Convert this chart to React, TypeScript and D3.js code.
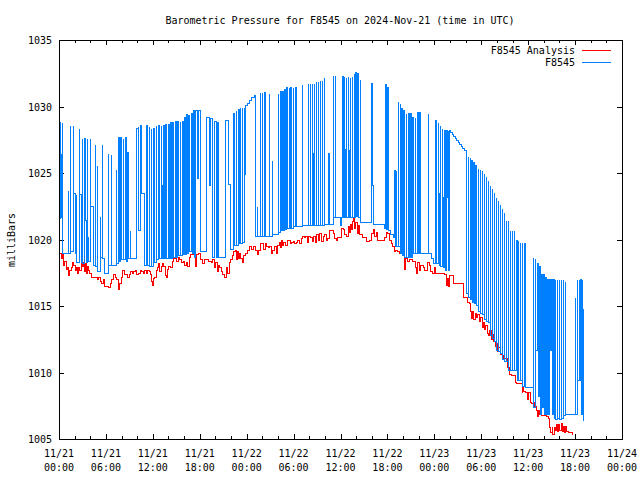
import React from "react";
import * as d3 from "d3";

const titleText = "Barometric Pressure for F8545 on 2024-Nov-21 (time in UTC)";
const yAxisLabel = "milliBars";
const seriesNames = ["F8545 Analysis", "F8545"];
const seriesColors = ["#ff0000", "#0080ff"];

const yTickValues = [1005, 1010, 1015, 1020, 1025, 1030, 1035];
const xTickHours = [0, 6, 12, 18, 24, 30, 36, 42, 48, 54, 60, 66, 72];
const xTickDates = ["11/21", "11/21", "11/21", "11/21", "11/22", "11/22", "11/22", "11/22", "11/23", "11/23", "11/23", "11/23", "11/24"];
const xTickTimes = ["00:00", "06:00", "12:00", "18:00", "00:00", "06:00", "12:00", "18:00", "00:00", "06:00", "12:00", "18:00", "00:00"];
const xMinorTickHours = [2, 4, 8, 10, 14, 16, 20, 22, 26, 28, 32, 34, 38, 40, 44, 46, 50, 52, 56, 58, 62, 64, 68, 70];

// [hours since 2024-11-21 00:00 UTC, millibars]
const redDay1 = [
  [0, 1019.0], [0.2, 1018.6], [0.35, 1018.9], [0.5, 1018.1], [0.7, 1018.4], [0.9, 1017.8], [1.05, 1017.9], [1.15, 1017.3], [1.3, 1017.7], [1.5, 1017.9],
  [1.7, 1018.3], [1.85, 1018.1], [2.0, 1017.7], [2.15, 1017.9], [2.3, 1017.5], [2.45, 1017.9], [2.6, 1017.7], [2.75, 1018.2], [2.9, 1018.0], [3.05, 1018.3],
  [3.15, 1017.6], [3.3, 1018.2], [3.45, 1017.5], [3.6, 1018.0], [3.75, 1017.7], [3.9, 1017.5], [4.1, 1017.2], [4.4, 1017.2], [4.6, 1017.2], [4.8, 1017.0],
  [5.0, 1017.2], [5.2, 1016.9], [5.4, 1016.7], [5.6, 1017.0], [5.8, 1016.5], [6.0, 1016.5], [6.3, 1016.4], [6.5, 1016.7], [6.7, 1017.0], [6.9, 1017.4],
  [7.1, 1017.2], [7.3, 1017.0], [7.5, 1016.3], [7.7, 1016.7], [7.9, 1017.2], [8.1, 1017.7], [8.3, 1017.4], [8.5, 1017.4], [8.7, 1017.2], [8.9, 1017.4],
  [9.1, 1017.6], [9.3, 1017.5], [9.5, 1017.6], [9.7, 1017.7], [9.9, 1017.4], [10.1, 1017.5], [10.3, 1017.7], [10.5, 1017.6], [10.7, 1017.5], [10.9, 1017.7],
  [11.1, 1017.5], [11.3, 1017.7], [11.5, 1017.6], [11.65, 1017.4], [11.8, 1016.9], [11.9, 1016.6], [12.05, 1017.1], [12.2, 1017.2], [12.4, 1017.7], [12.55, 1017.9],
  [12.7, 1018.2], [12.85, 1017.6], [13.0, 1018.0], [13.2, 1018.2], [13.35, 1018.0], [13.55, 1017.3], [13.7, 1017.2], [13.85, 1017.8], [14.0, 1018.0], [14.2, 1017.9],
  [14.4, 1018.4], [14.6, 1018.6], [14.8, 1018.6], [15.0, 1018.4], [15.2, 1018.7], [15.4, 1018.5], [15.6, 1018.3], [15.8, 1018.4], [16.0, 1018.1], [16.2, 1018.3],
  [16.4, 1018.0], [16.6, 1018.7], [16.8, 1018.9], [17.0, 1018.9], [17.2, 1018.9], [17.35, 1018.0], [17.5, 1018.9], [17.8, 1019.0], [18.05, 1018.5], [18.3, 1018.2],
  [18.55, 1018.5], [18.8, 1018.5], [19.1, 1018.4], [19.4, 1018.3], [19.6, 1018.5], [19.8, 1017.9], [20.0, 1018.3], [20.15, 1017.6], [20.3, 1018.1], [20.5, 1017.9],
  [20.7, 1017.6], [20.9, 1017.4], [21.1, 1017.2], [21.3, 1017.9], [21.5, 1017.5], [21.7, 1018.3], [21.9, 1018.5], [22.1, 1018.8], [22.3, 1019.1], [22.45, 1019.2],
  [22.6, 1018.5], [22.75, 1019.1], [22.9, 1018.6], [23.05, 1019.0], [23.2, 1018.6], [23.4, 1018.3], [23.55, 1018.8], [23.75, 1019.0],
];

const redDay2 = [
  [24.0, 1019.2], [24.3, 1019.5], [24.6, 1019.3], [24.8, 1019.5], [25.1, 1019.2], [25.3, 1018.9], [25.5, 1019.2], [25.7, 1019.7], [25.9, 1019.7], [26.1, 1019.3],
  [26.3, 1019.7], [26.5, 1019.5], [26.7, 1019.4], [26.9, 1019.5], [27.1, 1019.0], [27.3, 1019.2], [27.5, 1019.5], [27.7, 1019.0], [27.9, 1019.6], [28.1, 1019.8],
  [28.25, 1019.4], [28.4, 1020.0], [28.55, 1019.6], [28.7, 1019.8], [28.9, 1019.6], [29.1, 1020.0], [29.3, 1020.0], [29.5, 1019.7], [29.7, 1019.8], [29.9, 1019.9],
  [30.1, 1019.7], [30.3, 1019.8], [30.5, 1020.0], [30.7, 1019.7], [30.9, 1020.1], [31.1, 1020.3], [31.3, 1020.2], [31.5, 1020.3], [31.7, 1019.8], [31.9, 1020.3],
  [32.1, 1020.2], [32.3, 1019.9], [32.5, 1020.3], [32.7, 1019.8], [32.9, 1020.4], [33.1, 1020.0], [33.3, 1020.5], [33.5, 1019.9], [33.7, 1020.3], [33.9, 1020.4],
  [34.1, 1020.0], [34.3, 1020.1], [34.5, 1020.7], [34.8, 1020.7], [35.0, 1020.5], [35.2, 1020.1], [35.4, 1020.0], [35.6, 1020.2], [35.9, 1020.2], [36.1, 1020.9],
  [36.3, 1020.8], [36.5, 1020.4], [36.7, 1020.3], [36.9, 1021.0], [37.05, 1020.6], [37.2, 1021.2], [37.35, 1020.8], [37.5, 1021.4], [37.6, 1021.7], [37.75, 1020.9],
  [37.9, 1021.3], [38.05, 1020.5], [38.2, 1021.1], [38.4, 1020.4], [38.6, 1020.4], [38.8, 1020.2], [39.0, 1020.2], [39.3, 1019.9], [39.6, 1020.0], [39.9, 1020.5],
  [40.1, 1020.8], [40.3, 1020.3], [40.5, 1020.6], [40.7, 1020.0], [40.9, 1020.0], [41.2, 1020.0], [41.5, 1020.2], [41.8, 1020.6], [42.0, 1020.5], [42.2, 1020.0],
  [42.4, 1019.7], [42.6, 1019.5], [42.8, 1019.1], [43.0, 1019.2], [43.2, 1019.1], [43.5, 1019.0], [43.8, 1019.0], [44.0, 1019.0], [44.15, 1017.8], [44.3, 1018.6],
  [44.5, 1018.4], [44.8, 1018.5], [45.1, 1018.4], [45.3, 1018.4], [45.5, 1017.9], [45.65, 1017.5], [45.8, 1018.3], [46.0, 1017.7], [46.2, 1018.1], [46.5, 1017.9],
  [46.7, 1017.7], [47.0, 1018.3], [47.3, 1018.1], [47.5, 1017.6], [47.7, 1017.5], [47.9, 1017.9],
];

const redDay3 = [
  [48.1, 1017.5], [48.5, 1017.5], [49.0, 1017.5], [49.3, 1017.4], [49.5, 1016.6], [49.6, 1017.1], [49.75, 1016.5], [49.9, 1017.3], [50.2, 1017.3], [50.4, 1016.7],
  [51.0, 1016.7], [51.5, 1016.7], [51.7, 1015.7], [52.0, 1015.7], [52.2, 1015.3], [52.4, 1015.2], [52.6, 1014.6], [52.75, 1014.1], [52.85, 1014.6], [53.0, 1014.0],
  [53.15, 1014.5], [53.3, 1014.2], [53.5, 1014.4], [53.7, 1013.9], [53.9, 1014.2], [54.05, 1013.4], [54.2, 1013.8], [54.35, 1013.3], [54.5, 1013.6], [54.7, 1013.0],
  [54.9, 1012.8], [55.05, 1013.2], [55.2, 1012.5], [55.35, 1012.9], [55.5, 1012.4], [55.7, 1012.0], [55.9, 1012.2], [56.05, 1011.6], [56.2, 1011.9], [56.4, 1011.4],
  [56.6, 1011.3], [56.8, 1011.1], [57.1, 1011.1], [57.3, 1010.4], [57.5, 1009.9], [57.8, 1009.8], [58.1, 1009.8], [58.3, 1009.3], [58.5, 1009.2], [58.8, 1009.2],
  [59.0, 1009.2], [59.15, 1008.5], [59.25, 1009.0], [59.4, 1008.6], [59.6, 1008.5], [59.8, 1008.0], [60.0, 1008.5], [60.2, 1007.8], [60.4, 1007.7], [60.6, 1007.8],
  [60.8, 1007.5], [61.0, 1007.2], [61.1, 1006.7], [61.2, 1007.2], [61.4, 1006.9], [61.7, 1006.8], [62.0, 1006.8], [62.3, 1006.7], [62.5, 1006.6], [62.7, 1005.9],
  [62.85, 1005.5], [63.0, 1006.0], [63.1, 1005.4], [63.25, 1005.9], [63.4, 1005.7], [63.55, 1006.1], [63.7, 1005.6], [63.85, 1006.1], [64.0, 1005.7], [64.15, 1006.2],
  [64.3, 1005.6], [64.45, 1006.0], [64.6, 1005.5], [64.75, 1006.0], [64.9, 1005.6], [65.1, 1005.5], [65.3, 1005.5], [65.6, 1005.4],
];

// Each value holds until the next sample (step series).
const blueDay1 = [
  [0.0, 1026.4], [0.02, 1021.6], [0.1, 1028.9], [0.12, 1024.0], [0.22, 1026.5], [0.24, 1021.7], [0.32, 1028.8], [0.34, 1019.0],
  [1.15, 1023.7], [1.17, 1019.0], [1.37, 1028.6], [1.39, 1019.1], [1.75, 1028.6], [1.77, 1023.5], [2.0, 1019.0], [2.2, 1023.4], [2.22, 1018.3],
  [2.6, 1028.4], [2.62, 1023.4], [2.75, 1018.3], [2.95, 1027.6], [2.97, 1018.2], [3.25, 1027.6], [3.27, 1021.5], [3.4, 1018.3],
  [3.6, 1027.6], [3.62, 1020.2], [3.75, 1018.4], [3.95, 1027.6], [3.97, 1022.5], [4.3, 1018.1], [4.55, 1027.2], [4.57, 1018.0],
  [4.85, 1025.6], [4.87, 1017.6], [5.2, 1021.8], [5.22, 1018.7], [5.45, 1027.2], [5.47, 1018.6], [5.75, 1017.5], [6.25, 1026.5],
  [6.27, 1018.1], [6.6, 1026.4], [6.62, 1018.1], [7.3, 1025.3], [7.32, 1018.2], [7.55, 1027.7], [7.61, 1018.4], [7.85, 1027.7],
  [7.91, 1018.5], [8.15, 1027.6], [8.21, 1018.5], [8.45, 1027.7], [8.51, 1018.4], [8.75, 1026.6], [8.77, 1018.6], [9.1, 1020.7],
  [9.12, 1018.6], [9.85, 1028.4], [10.1, 1028.5], [10.12, 1020.7], [10.35, 1028.6], [10.55, 1023.5], [10.9, 1018.1],
  [11.15, 1028.6], [11.21, 1018.1], [11.45, 1028.5], [11.51, 1018.0], [11.75, 1028.4], [11.81, 1018.0], [12.05, 1028.4], [12.11, 1023.6],
  [12.17, 1018.3], [12.4, 1028.6], [12.46, 1018.5], [12.7, 1028.6], [12.76, 1018.6], [13.0, 1028.6], [13.06, 1024.1], [13.12, 1018.6],
  [13.35, 1028.6], [13.41, 1018.6], [13.6, 1028.7], [13.66, 1022.9], [13.72, 1018.6], [13.95, 1028.7], [14.01, 1018.6], [14.25, 1028.8],
  [14.31, 1018.6], [14.5, 1028.8], [14.56, 1023.0], [14.62, 1018.7], [14.85, 1028.9], [14.91, 1018.7], [15.15, 1028.9], [15.21, 1018.8],
  [15.45, 1028.9], [15.51, 1018.8], [15.75, 1028.9], [15.81, 1018.9], [16.0, 1029.2], [16.06, 1018.9], [16.25, 1029.4], [16.31, 1019.0],
  [16.5, 1029.4], [16.56, 1024.2], [16.62, 1029.4], [16.68, 1019.1], [16.9, 1029.5], [16.96, 1019.0], [17.2, 1029.7], [17.26, 1018.7],
  [17.45, 1029.7], [17.65, 1024.6], [17.75, 1029.7], [18.05, 1019.1], [18.75, 1029.2], [19.15, 1024.1], [19.35, 1029.1], [19.55, 1018.7],
  [19.85, 1028.9], [20.05, 1018.7], [20.25, 1028.8], [20.27, 1018.7], [21.25, 1029.0], [21.65, 1024.2], [21.85, 1019.3], [22.3, 1029.5],
  [22.36, 1019.6], [22.6, 1029.7], [22.66, 1019.6], [22.9, 1029.8], [22.96, 1019.7], [23.15, 1030.0], [23.21, 1019.7], [23.4, 1030.0],
  [23.46, 1019.8], [23.6, 1030.0], [23.62, 1024.9], [23.75, 1030.1],
];

const blueDay2 = [
  [24.0, 1030.3], [24.3, 1030.5], [24.6, 1030.7], [24.9, 1030.9], [25.05, 1020.3], [25.3, 1022.5], [25.32, 1020.3],
  [25.65, 1031.1], [25.71, 1020.3], [25.95, 1031.1], [26.01, 1020.3], [26.25, 1031.1], [26.31, 1020.3],
  [26.9, 1031.0], [26.92, 1020.3], [27.2, 1026.0], [27.22, 1020.4],
  [28.0, 1031.0], [28.06, 1020.6], [28.3, 1031.2], [28.36, 1020.7], [28.55, 1031.2], [28.61, 1020.7], [28.8, 1031.3], [28.86, 1020.8],
  [29.05, 1031.5], [29.11, 1020.9], [29.35, 1031.5], [29.41, 1020.9], [29.6, 1031.5], [29.66, 1023.7], [29.72, 1020.9], [29.9, 1031.5],
  [29.96, 1021.0], [30.2, 1031.5], [30.26, 1021.0], [31.1, 1031.7], [31.12, 1021.1],
  [31.8, 1031.8], [31.86, 1021.1], [32.05, 1031.8], [32.11, 1021.1], [32.3, 1031.8], [32.36, 1026.5], [32.42, 1021.1], [32.6, 1031.8],
  [32.66, 1021.1], [32.85, 1031.9], [32.91, 1021.1], [33.1, 1031.9], [33.16, 1021.1], [33.35, 1032.0], [33.41, 1021.1], [33.6, 1032.0],
  [33.66, 1021.1], [33.85, 1032.2], [33.95, 1021.2], [34.45, 1026.5], [34.47, 1021.2], [35.0, 1032.4], [35.02, 1021.7], [35.3, 1032.4],
  [35.32, 1021.7], [35.9, 1021.1], [36.0, 1021.7], [36.2, 1032.3], [36.26, 1021.7],
  [36.45, 1032.3], [36.51, 1026.8], [36.57, 1021.7], [36.7, 1032.2], [36.76, 1021.7], [36.95, 1032.3], [37.01, 1026.7], [37.07, 1021.7],
  [37.2, 1032.2], [37.26, 1021.7], [37.45, 1032.3], [37.51, 1021.7], [37.7, 1032.5], [37.76, 1021.7], [37.9, 1032.6], [37.96, 1021.8],
  [38.15, 1032.5], [38.21, 1021.7], [38.5, 1032.1], [38.52, 1021.3], [39.95, 1031.8], [40.05, 1024.1], [40.2, 1021.2], [41.5, 1020.9],
  [41.75, 1031.7], [41.77, 1020.8], [42.0, 1031.5], [42.02, 1020.7], [42.3, 1020.4], [42.7, 1020.2], [42.9, 1025.2], [42.92, 1019.5],
  [43.1, 1025.2], [43.12, 1019.5], [43.3, 1030.4], [43.36, 1019.5], [43.55, 1030.3], [43.61, 1019.0], [43.8, 1029.9], [43.86, 1018.8],
  [44.05, 1029.7], [44.11, 1018.7], [44.35, 1029.5], [44.41, 1018.7], [44.65, 1029.5], [44.71, 1018.7], [44.95, 1029.5], [45.01, 1018.7],
  [45.2, 1029.2], [45.26, 1019.0], [45.5, 1029.2], [45.56, 1019.0], [45.8, 1029.6], [45.86, 1019.0], [46.1, 1029.6], [46.16, 1019.0],
  [47.15, 1029.5], [47.17, 1019.0], [47.6, 1018.6], [47.8, 1018.2],
];

const blueDay3 = [
  [48.05, 1029.0], [48.2, 1018.2], [48.45, 1028.8], [48.47, 1023.5], [48.6, 1018.1], [48.75, 1028.6], [48.77, 1018.0], [49.0, 1028.4],
  [49.02, 1023.2], [49.15, 1017.9], [49.3, 1028.2], [49.32, 1017.7], [49.55, 1028.2], [49.57, 1023.2], [49.7, 1028.2], [49.72, 1017.7],
  [49.9, 1028.2], [50.0, 1028.1], [50.2, 1027.9], [50.4, 1027.8], [50.6, 1027.6], [50.8, 1027.5], [51.0, 1027.3], [51.2, 1027.2],
  [51.4, 1027.0], [51.6, 1026.9], [51.8, 1026.7], [52.05, 1021.5], [52.07, 1016.0], [52.25, 1026.3], [52.31, 1015.7], [52.5, 1026.2],
  [52.56, 1015.5], [52.75, 1026.0], [52.81, 1015.3], [53.0, 1025.8], [53.06, 1015.2], [53.25, 1025.6], [53.31, 1015.1], [53.55, 1025.4],
  [53.61, 1014.6], [53.8, 1025.3], [53.86, 1014.5], [54.05, 1025.2], [54.11, 1014.4], [54.35, 1025.0], [54.41, 1014.0], [54.6, 1024.8],
  [54.66, 1013.9], [54.85, 1024.5], [54.91, 1013.8], [55.1, 1024.1], [55.16, 1012.8], [55.35, 1023.9], [55.41, 1012.6], [55.6, 1023.6],
  [55.66, 1012.4], [55.85, 1023.2], [55.91, 1011.7], [56.1, 1023.0], [56.16, 1011.6], [56.4, 1022.7], [56.46, 1011.5], [56.65, 1022.4],
  [56.71, 1011.0], [56.9, 1022.1], [56.96, 1010.9], [57.15, 1021.5], [57.21, 1010.9], [57.4, 1021.5], [57.46, 1010.2], [57.65, 1020.7],
  [57.71, 1010.2], [57.9, 1020.7], [57.96, 1010.2], [58.15, 1020.7], [58.21, 1010.2], [58.45, 1020.0], [58.51, 1009.4], [58.7, 1020.0],
  [58.76, 1009.4], [58.95, 1019.8], [59.01, 1009.4], [59.2, 1019.8], [59.26, 1009.0], [59.5, 1019.7], [59.56, 1008.9], [60.65, 1018.7],
  [60.67, 1007.4], [60.9, 1018.6], [60.92, 1011.7], [61.15, 1018.2], [61.24, 1008.2], [61.4, 1018.0], [61.49, 1006.9], [61.65, 1017.4],
  [61.74, 1007.4], [61.9, 1017.4], [61.99, 1006.9], [62.15, 1017.2], [62.24, 1006.9], [62.4, 1017.0], [62.49, 1006.9], [62.65, 1017.0],
  [62.74, 1011.7], [62.9, 1017.0], [62.99, 1006.9], [63.15, 1017.0], [63.24, 1006.6], [63.4, 1017.0], [63.49, 1006.5], [63.65, 1017.0],
  [63.74, 1006.6], [63.9, 1017.0], [63.99, 1006.5], [64.15, 1017.0], [64.24, 1006.6], [64.4, 1017.0], [64.49, 1006.8], [64.65, 1016.9],
  [64.74, 1006.9], [66.0, 1015.7], [66.02, 1006.9], [66.2, 1017.0], [66.26, 1009.4], [66.45, 1017.0], [66.51, 1009.4], [66.65, 1017.0],
  [66.71, 1006.9], [66.85, 1017.0], [66.91, 1014.8], [67.0, 1006.4], [67.05, 1006.4],
];

export default function App() {
  const left = 59;
  const right = 622;
  const top = 40;
  const bottom = 439;
  const x = d3.scaleLinear().domain([0, 72]).range([left, right]);
  const y = d3.scaleLinear().domain([1005, 1035]).range([bottom, top]);
  // snap to pixel centres so 1px strokes stay 1px wide (aliased, like the original)
  const px = (h: number) => Math.round(x(h)) + 0.5;
  const py = (v: number) => Math.round(y(v)) + 0.5;

  const redLine = d3
    .line<number[]>()
    .x((d) => px(d[0]))
    .y((d) => py(d[1]))
    .curve(d3.curveStepAfter);
  const blueLine = d3
    .line<number[]>()
    .x((d) => px(d[0]))
    .y((d) => py(d[1]))
    .curve(d3.curveStepAfter);

  const red = [...redDay1, ...redDay2, ...redDay3];
  const blue = [...blueDay1, ...blueDay2, ...blueDay3];
  const font = "'DejaVu Sans Mono', 'Liberation Mono', monospace";

  return (
    <svg
      width={640}
      height={480}
      style={{ position: "absolute", left: 0, top: 0 }}
      fontFamily={font}
      fontSize={10}
    >
      <rect x={0} y={0} width={640} height={480} fill="#ffffff" />
      <text x={340} y={24} textAnchor="middle" fill="#000">
        {titleText}
      </text>

      <g stroke="#000" strokeWidth={1} shapeRendering="crispEdges">
        {yTickValues.map((v) => (
          <g key={"yt" + v}>
            <line x1={left} x2={left + 5} y1={py(v)} y2={py(v)} />
            <line x1={right - 5} x2={right} y1={py(v)} y2={py(v)} />
          </g>
        ))}
        {xTickHours.map((h) => (
          <g key={"xt" + h}>
            <line x1={px(h)} x2={px(h)} y1={bottom} y2={bottom - 5} />
            <line x1={px(h)} x2={px(h)} y1={top} y2={top + 5} />
          </g>
        ))}
        {xMinorTickHours.map((h) => (
          <g key={"xm" + h}>
            <line x1={px(h)} x2={px(h)} y1={bottom} y2={bottom - 3} />
            <line x1={px(h)} x2={px(h)} y1={top} y2={top + 3} />
          </g>
        ))}
      </g>

      {yTickValues.map((v) => (
        <text key={"yl" + v} x={52} y={y(v) + 4} textAnchor="end" fill="#000">
          {v}
        </text>
      ))}
      {xTickHours.map((h, i) => (
        <g key={"xl" + h}>
          <text x={x(h)} y={457} textAnchor="middle" fill="#000">
            {xTickDates[i]}
          </text>
          <text x={x(h)} y={471} textAnchor="middle" fill="#000">
            {xTickTimes[i]}
          </text>
        </g>
      ))}
      <text transform="translate(15,240) rotate(-90)" textAnchor="middle" fill="#000">
        {yAxisLabel}
      </text>

      <path d={redLine(red) || ""} fill="none" stroke={seriesColors[0]} strokeWidth={1} shapeRendering="crispEdges" />
      <path d={blueLine(blue) || ""} fill="none" stroke={seriesColors[1]} strokeWidth={1} shapeRendering="crispEdges" />

      <rect
        x={left + 0.5}
        y={top + 0.5}
        width={right - left}
        height={bottom - top}
        fill="none"
        stroke="#000"
        strokeWidth={1}
        shapeRendering="crispEdges"
      />

      {seriesNames.map((name, i) => (
        <g key={name}>
          <text x={575} y={54 + i * 12} textAnchor="end" fill="#000">
            {name}
          </text>
          <line
            x1={582}
            x2={611}
            y1={50.5 + i * 12}
            y2={50.5 + i * 12}
            stroke={seriesColors[i]}
            strokeWidth={1}
            shapeRendering="crispEdges"
          />
        </g>
      ))}
    </svg>
  );
}
